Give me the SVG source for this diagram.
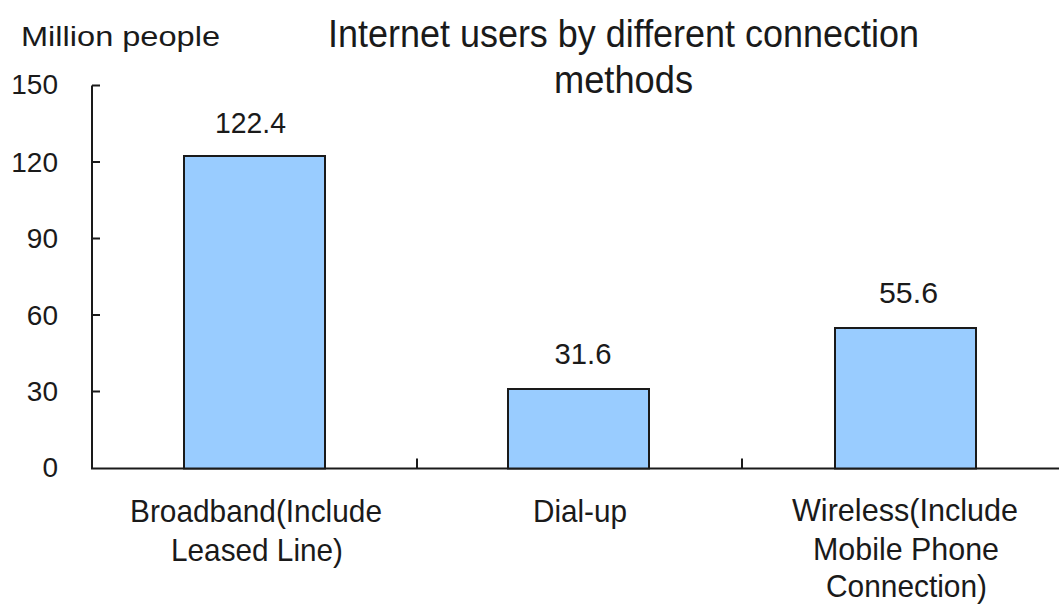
<svg xmlns="http://www.w3.org/2000/svg" width="1059" height="604" viewBox="0 0 1059 604">
<style>
text{font-family:"Liberation Sans",Arial,sans-serif;fill:#1a1a1a}
.tick{font-size:28px;text-anchor:end}
.val{font-size:29.5px;text-anchor:middle}
.cat{font-size:31.5px;text-anchor:middle}
.title{font-size:38px;text-anchor:middle}
.bar{fill:#99CCFF;stroke:#1a1a1a;stroke-width:2}
.axis{stroke:#1a1a1a;stroke-width:2;fill:none}
</style>
<rect width="1059" height="604" fill="#ffffff"/>
<g id="title">
<text class="title" x="623.5" y="47" textLength="591" lengthAdjust="spacingAndGlyphs">Internet users by different connection</text>
<text class="title" x="623.5" y="93" textLength="139" lengthAdjust="spacingAndGlyphs">methods</text>
</g>
<text id="yunit" x="21" y="46" font-size="27.5" textLength="199" lengthAdjust="spacingAndGlyphs">Million people</text>
<g id="axes">
<path class="axis" d="M92 85.5V468.5H1059"/>
<path class="axis" d="M92 85.5h8M92 162h8M92 238.5h8M92 315h8M92 391.5h8M417 468.5v-10M742 468.5v-10"/>
</g>
<g id="yticks">
<text class="tick" x="58" y="94">150</text>
<text class="tick" x="58" y="172">120</text>
<text class="tick" x="58" y="248">90</text>
<text class="tick" x="58" y="325">60</text>
<text class="tick" x="58" y="401">30</text>
<text class="tick" x="58" y="477">0</text>
</g>
<g id="bar-broadband">
<rect class="bar" x="184" y="156" width="141" height="312.5"/>
<text class="val" x="250.5" y="133" textLength="71" lengthAdjust="spacingAndGlyphs">122.4</text>
<text class="cat" x="256" y="522" textLength="252" lengthAdjust="spacingAndGlyphs">Broadband(Include</text>
<text class="cat" x="257" y="561" textLength="172" lengthAdjust="spacingAndGlyphs">Leased Line)</text>
</g>
<g id="bar-dialup">
<rect class="bar" x="508" y="389" width="141" height="79.5"/>
<text class="val" x="583" y="363.5" textLength="57" lengthAdjust="spacingAndGlyphs">31.6</text>
<text class="cat" x="580" y="522" textLength="94" lengthAdjust="spacingAndGlyphs">Dial-up</text>
</g>
<g id="bar-wireless">
<rect class="bar" x="835" y="328" width="141" height="140.5"/>
<text class="val" x="908.5" y="303" textLength="59" lengthAdjust="spacingAndGlyphs">55.6</text>
<text class="cat" x="905" y="521" textLength="226" lengthAdjust="spacingAndGlyphs">Wireless(Include</text>
<text class="cat" x="906" y="560" textLength="186" lengthAdjust="spacingAndGlyphs">Mobile Phone</text>
<text class="cat" x="906.5" y="597" textLength="161" lengthAdjust="spacingAndGlyphs">Connection)</text>
</g>
</svg>
